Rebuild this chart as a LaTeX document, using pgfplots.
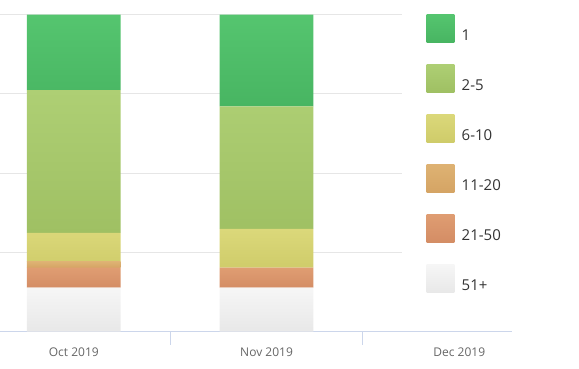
\documentclass[border=0pt]{standalone}
\usepackage{pgfplots}
\pgfplotsset{compat=1.18}
\usepackage{fontspec}
\setmainfont{Open Sans}
\definecolor{axisc}{HTML}{CCD6EB}
\definecolor{gridc}{HTML}{E6E6E6}
\definecolor{labc}{HTML}{666666}
\definecolor{legc}{HTML}{333333}
\definecolor{aT}{HTML}{55C56F}\definecolor{aB}{HTML}{48B562}
\definecolor{bT}{HTML}{AECF74}\definecolor{bB}{HTML}{9FC063}
\definecolor{cT}{HTML}{DBD87A}\definecolor{cB}{HTML}{CFCC6A}
\definecolor{dT}{HTML}{DEB273}\definecolor{dB}{HTML}{D5A464}
\definecolor{eT}{HTML}{DF9D72}\definecolor{eB}{HTML}{D48D65}
\definecolor{fT}{HTML}{F6F6F6}\definecolor{fB}{HTML}{E8E8E8}
\begin{document}
\begin{tikzpicture}
\useasboundingbox (0,0) rectangle (579pt,368pt);
\begin{axis}[
  at={(0pt,36.3pt)}, anchor=south west,
  scale only axis, width=511.7pt, height=317pt,
  xmin=-0.383, xmax=2.272, ymin=0, ymax=100,
  axis x line*=bottom, axis y line*=left,
  x axis line style={draw=axisc, line width=1pt},
  y axis line style={draw=none},
  xtick={0,1,2}, xticklabels={Oct 2019, Nov 2019, Dec 2019},
  ytick={25,50,75,100}, yticklabels={},
  ymajorgrids, grid style={draw=gridc, line width=1pt},
  major tick length=0pt,
  minor xtick={0.5,1.5},
  minor tick length=13pt,
  tick align=outside,
  minor x tick style={draw=axisc, line width=1pt},
  x tick label style={font=\fontsize{12}{14}\selectfont, text=labc, anchor=base, yshift=-24.6pt},
  ybar stacked, bar width=93.7pt,
  clip=false,
  reverse legend,
  legend style={at={(0.8339,1.0022)}, anchor=north west, draw=none, fill=none,
    inner sep=0pt, outer sep=0pt, row sep=22pt, column sep=7.4pt,
    font=\fontsize{15}{18}\selectfont, text=legc,
    cells={anchor=base west}, nodes={inner sep=0pt}},
  legend image code/.code={\path[#1, draw=none] (0pt,-2pt) rectangle (27.6pt,26pt);},
]
\addplot[draw=none, top color=fT, bottom color=fB] coordinates {(0,13.9) (1,13.9)};
\addplot[draw=none, top color=eT, bottom color=eB] coordinates {(0,6.3) (1,6.3)};
\addplot[draw=none, top color=dT, bottom color=dB] coordinates {(0,1.9) (1,0)};
\addplot[draw=none, top color=cT, bottom color=cB] coordinates {(0,9.1) (1,12.2)};
\addplot[draw=none, top color=bT, bottom color=bB] coordinates {(0,45.0) (1,38.7)};
\addplot[draw=none, top color=aT, bottom color=aB] coordinates {(0,23.8) (1,28.9)};
\legend{51+, 21-50, 11-20, 6-10, 2-5, 1}
\fill[white] (axis cs:1.703,20) rectangle (axis cs:2.4,102);
\end{axis}
\end{tikzpicture}
\end{document}
